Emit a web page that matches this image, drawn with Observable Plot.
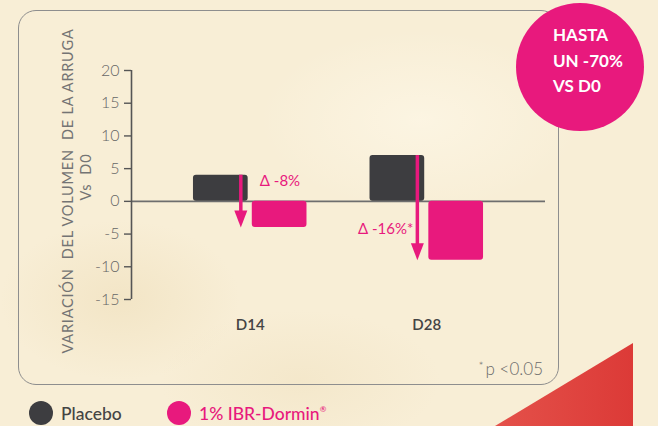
<!DOCTYPE html>
<html>
<head>
<meta charset="utf-8">
<script src="https://cdn.jsdelivr.net/npm/d3@7"></script>
<script src="https://cdn.jsdelivr.net/npm/@observablehq/plot@0.6"></script>
<style>
  html, body { margin: 0; padding: 0; }
  body { width: 658px; height: 426px; overflow: hidden; font-family: Lato, "Open Sans", sans-serif; }
  #wrap {
    position: relative; width: 658px; height: 426px; overflow: hidden;
    background:
      radial-gradient(ellipse 120px 80px at 120px 300px, rgba(236,218,178,0.45), transparent),
      radial-gradient(ellipse 160px 90px at 420px 120px, rgba(255,250,236,0.55), transparent),
      radial-gradient(ellipse 140px 70px at 300px 380px, rgba(238,222,186,0.4), transparent),
      #f8eed6;
  }
  #box {
    position: absolute; left: 18px; top: 10px; width: 541px; height: 375px;
    border: 1.5px solid #8e8e8e; border-radius: 18px; box-sizing: border-box;
  }
  #tri {
    position: absolute; left: 495px; top: 343px; width: 138px; height: 83px;
    background: linear-gradient(90deg, #e4514a, #dc3a37);
    clip-path: polygon(100% 0, 100% 100%, 0 100%);
  }
  .chart { position: absolute; left: 0; top: 0; }
  #badge {
    position: absolute; left: 516px; top: 3px; width: 128px; height: 128px;
    border-radius: 50%; background: #e8197d;
  }
  #badge div {
    position: absolute; left: 37px; top: 19px; color: #fff; font-family: Lato, sans-serif;
    font-weight: 700; font-size: 17px; line-height: 25.5px; white-space: pre;
  }
  .ytitle {
    position: absolute; white-space: pre; color: #747474; font-size: 14.5px; letter-spacing: 0.8px;
    transform: translate(-50%, -50%) rotate(-90deg); font-family: Lato, sans-serif;
  }
  #note { position: absolute; right: 115px; top: 358px; color: #6a6a6a; font-size: 17px; font-weight: 300; }
  #note .ast { font-size: 12px; position: relative; top: -5px; margin-right: 2px; }
  .leg { position: absolute; top: 401px; height: 24px; display: flex; align-items: center; font-size: 17.5px; font-weight: 500; }
  .leg .sw { width: 24px; height: 24px; border-radius: 50%; margin-right: 8px; }
  .leg sup { font-size: 8px; vertical-align: 8px; }
</style>
</head>
<body>
<div id="wrap">
  <div id="box"></div>
  <div id="tri"></div>
  <div class="ytitle" id="yt1"></div>
  <div class="ytitle" id="yt2"></div>
  <div class="chart" id="axes"></div>
  <div class="chart" id="chart"></div>
  <div id="note"><span class="ast">*</span>p &lt;0.05</div>
  <div class="leg" id="leg1" style="left:29px;"></div>
  <div class="leg" id="leg2" style="left:167px;"></div>
  <div id="badge"><div></div></div>
</div>
<script>
// ---- data ----
const days = ["D14", "D28"];
const series = ["Placebo", "1% IBR-Dormin®"];
const placeboValues = [4, 7];
const ibrValues = [-4, -9];
const deltaLabels = ["Δ -8%", "Δ -16%*"];
const yTicks = [-15, -10, -5, 0, 5, 10, 15, 20];
const yDomain = [-15, 20];
const seriesColors = ["#3d3d40", "#e8197d"];
const yTitleLines = ["VARIACIÓN  DEL VOLUMEN  DE LA ARRUGA", "Vs  D0"];
const badgeLines = ["HASTA", "UN -70%", "VS D0"];

// titles / legend / badge text
const yt1 = document.getElementById("yt1");
yt1.textContent = yTitleLines[0];
yt1.style.left = "67px"; yt1.style.top = "191px";
const yt2 = document.getElementById("yt2");
yt2.textContent = yTitleLines[1];
yt2.style.left = "85px"; yt2.style.top = "177px";
document.querySelector("#badge div").textContent = badgeLines.join("\n");
document.getElementById("leg1").innerHTML = `<span class="sw" style="background:${seriesColors[0]}"></span><span style="color:#444">${series[0]}</span>`;
document.getElementById("leg2").innerHTML = `<span class="sw" style="background:${seriesColors[1]}"></span><span style="color:${seriesColors[1]}">${series[1].replace("®", "<sup>®</sup>")}</span>`;

const rows = days.flatMap((d, i) => [
  {day: d, series: series[0], value: placeboValues[i]},
  {day: d, series: series[1], value: ibrValues[i]}
]);
const arrows = days.map((d, i) => ({day: d, from: placeboValues[i], to: ibrValues[i], label: deltaLabels[i]}));

const pink = seriesColors[1];
const headSymbol = {
  draw(context) {
    context.moveTo(0, 0);
    context.lineTo(-6.5, -17);
    context.lineTo(6.5, -17);
    context.closePath();
  }
};

const frameOpts = {
  width: 658,
  height: 426,
  marginTop: 70,
  marginBottom: 127,
  marginLeft: 131,
  marginRight: 113,
  style: {background: "transparent", fontFamily: "Lato, sans-serif", fontSize: "14px", color: "#666", overflow: "visible"}
};

// shared y axis + zero line (unfaceted, spans whole frame)
const axes = Plot.plot({
  ...frameOpts,
  x: {domain: [0, 1], axis: null},
  y: {domain: yDomain, axis: null},
  marks: [
    Plot.ruleY([0], {stroke: "#6e6e6e", strokeWidth: 1.6}),
    Plot.ruleX([0], {y1: yDomain[0], y2: yDomain[1], stroke: "#555", strokeWidth: 1.6}),
    Plot.axisY({ticks: yTicks, tickFormat: d => String(d), tickSize: 7, tickPadding: 5, fontSize: 16, fontWeight: 300, stroke: "#555", strokeWidth: 1.4, fill: "#666", label: null})
  ]
});
document.getElementById("axes").appendChild(axes);

// bars, arrows and labels, faceted by day
const chart = Plot.plot({
  ...frameOpts,
  fx: {domain: days, paddingInner: 0.357, paddingOuter: 0.351, round: false, label: null},
  x: {domain: series, paddingInner: 0.07, paddingOuter: 0, round: false, axis: null},
  y: {domain: yDomain, axis: null},
  color: {domain: series, range: seriesColors},
  marks: [
    Plot.barY(rows, {fx: "day", x: "series", y: "value", fill: "series", rx: 3}),
    Plot.ruleX(arrows, {fx: "day", x: () => series[0], y1: "from", y2: "to", dx: 20, stroke: pink, strokeWidth: 3.5, insetBottom: 10}),
    Plot.dot(arrows, {fx: "day", x: () => series[0], y: "to", dx: 20, symbol: headSymbol, fill: pink, stroke: null, r: 6}),
    Plot.text([arrows[0]], {fx: "day", x: () => series[0], y: "from", dx: 39, dy: 6, text: "label", textAnchor: "start", fill: pink, fontSize: 15}),
    Plot.text([arrows[1]], {fx: "day", x: () => series[0], y: d => d.to / 2, dx: 16, dy: -2, text: "label", textAnchor: "end", fill: pink, fontSize: 15}),
    Plot.axisFx({anchor: "bottom", tickSize: 0, tickPadding: 20, fontSize: 15, fontWeight: 600, fill: "#444", label: null})
  ]
});
document.getElementById("chart").appendChild(chart);
</script>
</body>
</html>
